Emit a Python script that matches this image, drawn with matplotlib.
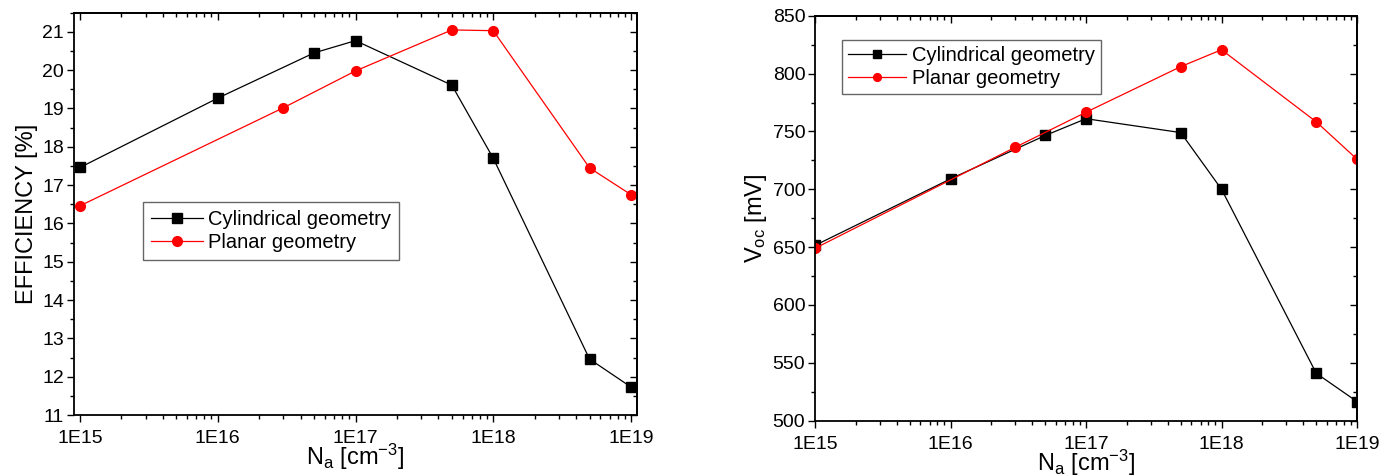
import numpy as np
import matplotlib
matplotlib.use("Agg")
import matplotlib.pyplot as plt
from matplotlib.ticker import FixedLocator, LogLocator, MultipleLocator, FuncFormatter, NullFormatter

plt.rcParams['font.family'] = ['Liberation Sans', 'DejaVu Sans']
plt.rcParams['mathtext.fontset'] = 'custom'
plt.rcParams['mathtext.rm'] = 'Liberation Sans'
plt.rcParams['mathtext.it'] = 'Liberation Sans'

# Datos
na_cyl = [1e15, 1e16, 5e16, 1e17, 5e17, 1e18, 5e18, 1e19]
na_pla = [1e15, 3e16, 1e17, 5e17, 1e18, 5e18, 1e19]

eff_cyl = [17.46, 19.27, 20.45, 20.77, 19.61, 17.70, 12.46, 11.73]
eff_pla = [16.46, 19.02, 19.98, 21.05, 21.03, 17.45, 16.75]

voc_cyl = [651.5, 709, 746.5, 761, 749, 700, 541, 516.5]
voc_pla = [649, 736.3, 766.6, 806, 820.6, 758.3, 726]

major_x = [1e15, 1e16, 1e17, 1e18, 1e19]


def fmt_e(x, pos):
    return "1E{}".format(int(round(np.log10(x))))


def style_axis(ax):
    ax.set_xscale("log")
    ax.xaxis.set_major_locator(FixedLocator(major_x))
    ax.xaxis.set_major_formatter(FuncFormatter(fmt_e))
    ax.xaxis.set_minor_locator(LogLocator(base=10, subs=np.arange(2, 10)))
    ax.xaxis.set_minor_formatter(NullFormatter())
    # abajo/izquierda hacia afuera, arriba/derecha hacia adentro
    ax.tick_params(which="both", direction="out", labelsize=14, width=1)
    ax.tick_params(which="major", length=5)
    ax.tick_params(which="minor", length=3)
    ax.tick_params(axis="x", which="major", pad=6)
    ax.tick_params(axis="y", which="major", pad=2)
    sec_x = ax.secondary_xaxis("top")
    sec_x.set_xscale("log")
    sec_x.xaxis.set_major_locator(FixedLocator(major_x))
    sec_x.xaxis.set_minor_locator(LogLocator(base=10, subs=np.arange(2, 10)))
    sec_x.tick_params(which="both", direction="in", labeltop=False, width=1)
    sec_x.tick_params(which="major", length=5)
    sec_x.tick_params(which="minor", length=3)
    sec_y = ax.secondary_yaxis("right")
    sec_y.yaxis.set_major_locator(ax.yaxis.get_major_locator())
    sec_y.yaxis.set_minor_locator(ax.yaxis.get_minor_locator())
    sec_y.tick_params(which="both", direction="in", labelright=False, width=1)
    sec_y.tick_params(which="major", length=5)
    sec_y.tick_params(which="minor", length=3)
    for s in ax.spines.values():
        s.set_linewidth(1.3)
    sec_x.spines["top"].set_linewidth(1.3)
    sec_y.spines["right"].set_linewidth(1.3)
    ax.set_xlabel(r"N$_{\rm a}$ [cm$^{-3}$]", fontsize=17, labelpad=-4)


fig = plt.figure(figsize=(13.98, 4.75), dpi=100)
ax1 = fig.add_axes([0.0529, 0.1263, 0.4028, 0.847])
ax2 = fig.add_axes([0.583, 0.1143, 0.3877, 0.8526])

# Eficiencia
ax1.plot(na_cyl, eff_cyl, color="black", marker="s", markersize=6.5, lw=0.9,
         label="Cylindrical geometry", clip_on=False)
ax1.plot(na_pla, eff_pla, color="red", marker="o", markersize=7, lw=0.9,
         label="Planar geometry", clip_on=False)
ax1.set_xlim(10**14.956, 10**19.044)
ax1.set_ylim(11, 21.5)
ax1.yaxis.set_major_locator(MultipleLocator(1))
ax1.yaxis.set_minor_locator(MultipleLocator(0.5))
style_axis(ax1)
ax1.set_ylabel("EFFICIENCY [%]", fontsize=17, labelpad=3)
leg1 = ax1.legend(loc="upper left", bbox_to_anchor=(0.1226, 0.5295), fontsize=14.5,
                  fancybox=False, edgecolor="#404040", handlelength=2.6,
                  handletextpad=0.25, borderpad=0.4, labelspacing=0.2,
                  borderaxespad=0)
leg1.get_frame().set_linewidth(1.0)

# Voc
ax2.plot(na_cyl, voc_cyl, color="black", marker="s", markersize=6.5, lw=0.9,
         label="Cylindrical geometry")
ax2.plot(na_pla, voc_pla, color="red", marker="o", markersize=7, lw=0.9,
         label="Planar geometry")
ax2.set_xlim(1e15, 1e19)
ax2.set_ylim(500, 850)
ax2.yaxis.set_major_locator(MultipleLocator(50))
ax2.yaxis.set_minor_locator(MultipleLocator(25))
style_axis(ax2)
ax2.set_ylabel(r"V$_{\rm oc}$ [mV]", fontsize=17, labelpad=3)
leg2 = ax2.legend(loc="upper left", bbox_to_anchor=(0.0498, 0.940), fontsize=14.5,
                  fancybox=False, edgecolor="#404040", handlelength=2.9,
                  handletextpad=0.25, borderpad=0.3, labelspacing=0.2,
                  borderaxespad=0, markerscale=0.8)
leg2.get_frame().set_linewidth(1.0)

fig.savefig("out.png", dpi=100)
